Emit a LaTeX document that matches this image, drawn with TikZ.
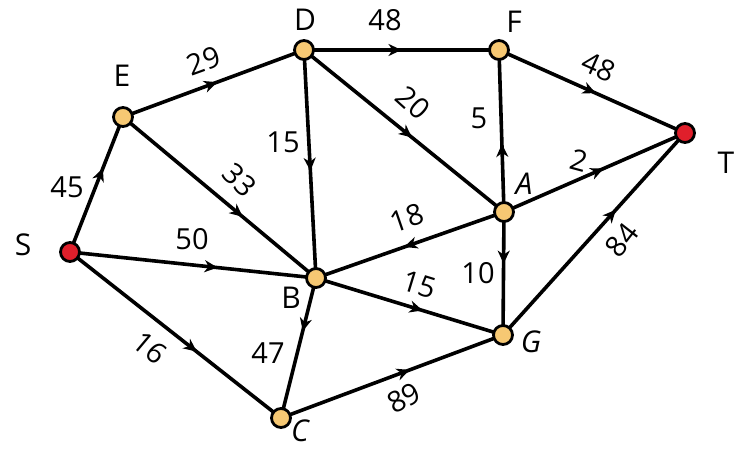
\documentclass[tikz,border=0pt]{standalone}
\usepackage{fontspec}
\setmainfont{Open Sans}
\usetikzlibrary{arrows.meta,decorations.markings}
\definecolor{nodeor}{HTML}{F6C873}
\definecolor{nodered}{HTML}{E01F2B}
\tikzset{
  vtx/.style={circle, draw=black, line width=2.8pt, fill=nodeor, minimum size=19pt, inner sep=0pt},
  srcvtx/.style={vtx, fill=nodered},
  edgeln/.style={line width=3.6pt, draw=black},
  marr/.style={postaction={decorate, decoration={markings,
      mark=at position #1 with {\arrow{Stealth[length=13pt,width=12pt,inset=4pt]}}}}},
  vlab/.style={font=\fontsize{30}{30}\selectfont, inner sep=0pt},
  wlab/.style={font=\fontsize{29}{29}\selectfont, inner sep=0pt},
}
\begin{document}
\begin{tikzpicture}[x=1pt,y=-1pt]
\useasboundingbox (0,0) rectangle (736,449);
% vertices
\coordinate (pS) at (70,252);
\coordinate (pE) at (123,117);
\coordinate (pD) at (304,50);
\coordinate (pF) at (499,50);
\coordinate (pT) at (685,133);
\coordinate (pA) at (504,212);
\coordinate (pB) at (316,278);
\coordinate (pG) at (503,335);
\coordinate (pC) at (281,418);
% edges
\draw[edgeln, marr=0.62] (pS) -- (pE);
\draw[edgeln, marr=0.52] (pE) -- (pD);
\draw[edgeln, marr=0.5] (pD) -- (pF);
\draw[edgeln, marr=0.52] (pF) -- (pT);
\draw[edgeln, marr=0.62] (pE) -- (pB);
\draw[edgeln, marr=0.53] (pD) -- (pB);
\draw[edgeln, marr=0.54] (pD) -- (pA);
\draw[edgeln, marr=0.42] (pA) -- (pF);
\draw[edgeln, marr=0.55] (pA) -- (pT);
\draw[edgeln, marr=0.53] (pA) -- (pB);
\draw[edgeln, marr=0.42] (pA) -- (pG);
\draw[edgeln, marr=0.6] (pS) -- (pB);
\draw[edgeln, marr=0.57] (pB) -- (pG);
\draw[edgeln, marr=0.6] (pS) -- (pC);
\draw[edgeln, marr=0.38] (pB) -- (pC);
\draw[edgeln, marr=0.58] (pC) -- (pG);
\draw[edgeln, marr=0.62] (pG) -- (pT);
% vertex discs
\node[srcvtx] (S) at (pS) {};
\node[vtx] (E) at (pE) {};
\node[vtx] (D) at (pD) {};
\node[vtx] (F) at (pF) {};
\node[srcvtx] (T) at (pT) {};
\node[vtx] (A) at (pA) {};
\node[vtx] (B) at (pB) {};
\node[vtx] (G) at (pG) {};
\node[vtx] (C) at (pC) {};
% vertex names
\node[vlab] (nS) at (23,245) {S};
\node[vlab] (nE) at (122,76) {E};
\node[vlab] (nD) at (305,20) {D};
\node[vlab] (nF) at (514,22) {F};
\node[vlab] (nT) at (726,163) {T};
\node[vlab] (nA) at (524,184) {\itshape A};
\node[vlab] (nB) at (291,298) {B};
\node[vlab] (nG) at (531,342) {\itshape G};
\node[vlab] (nC) at (300,431) {\itshape C};
% weights
\node[wlab] (w45) at (67,187) {45};
\node[wlab, rotate=20] (w29) at (204,61) {29};
\node[wlab] (w48a) at (385,20) {48};
\node[wlab, rotate=-24] (w48b) at (599,67) {48};
\node[wlab, rotate=-45] (w33) at (240,180) {33};
\node[wlab] (w15a) at (283,142) {15};
\node[wlab, rotate=-42] (w20) at (413,103) {20};
\node[wlab] (w5) at (479,118) {5};
\node[wlab, rotate=-15] (w2) at (579,161) {2};
\node[wlab, rotate=19] (w18) at (407,218) {18};
\node[wlab] (w50) at (192,239) {50};
\node[wlab, rotate=-17] (w15b) at (419,285) {15};
\node[wlab] (w10) at (478,273) {10};
\node[wlab, rotate=52] (w84) at (622,240) {84};
\node[wlab, rotate=-40] (w16) at (150,348) {16};
\node[wlab] (w47) at (268,353) {47};
\node[wlab, rotate=28] (w89) at (404,398) {89};
\end{tikzpicture}
\end{document}
